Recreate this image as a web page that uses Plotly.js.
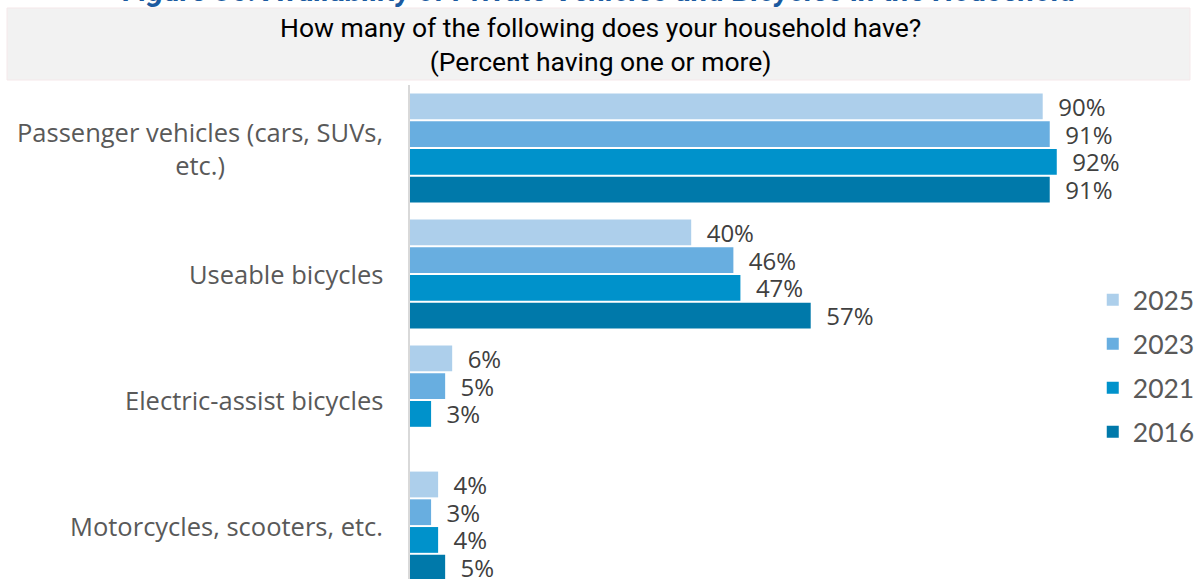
<!DOCTYPE html>
<html>
<head>
<meta charset="utf-8">
<script src="https://cdn.plot.ly/plotly-3.0.1.min.js"></script>
<style>html,body{margin:0;padding:0;background:#fff;overflow:hidden;}</style>
</head>
<body>
<div id="chart" style="width:1197px;height:579px;"></div>
<script>
const categories = ['Passenger vehicles (cars, SUVs,<br>etc.)', 'Useable bicycles', 'Electric-assist bicycles', 'Motorcycles, scooters, etc.'];
const seriesNames = ['2025', '2023', '2021', '2016'];
const v2025 = [90, 40, 6, 4];
const v2023 = [91, 46, 5, 3];
const v2021 = [92, 47, 3, 4];
const v2016 = [91, 57, null, 5];
const seriesValues = [v2025, v2023, v2021, v2016];
const seriesColors = ['#adcfeb', '#68aee0', '#0092cb', '#0079aa'];
const figureTitle = 'Figure 36: Availability of Private Vehicles and Bicycles in the Household';
const questionText = 'How many of the following does your household have?<br>(Percent having one or more)';

const catIdx = categories.map((c, i) => i);
const traces = seriesNames.map((name, k) => ({
  type: 'bar',
  orientation: 'h',
  name: name,
  legendgroup: name,
  x: seriesValues[k],
  y: catIdx,
  marker: {color: seriesColors[k]},
  texttemplate: '\u00a0\u00a0%{x}%',
  textposition: 'outside',
  constraintext: 'none',
  cliponaxis: false,
  textfont: {family: '"Open Sans", sans-serif', size: 24, color: '#404040'},
  hoverinfo: 'skip'
}));

const annotations = categories.map((c, i) => ({
  xref: 'paper', yref: 'y', x: -0.036, y: i,
  xanchor: 'right', yanchor: 'middle', align: 'center',
  text: c, showarrow: false,
  font: {family: '"Open Sans", sans-serif', size: 25.5, color: '#595959'}
}));
annotations.push({
  xref: 'paper', yref: 'paper', x: 0.2754, y: 1.081,
  xanchor: 'center', yanchor: 'middle', align: 'center',
  text: questionText, showarrow: false,
  font: {family: 'Roboto, sans-serif', size: 26.5, color: '#000000'}
});
annotations.push({
  xref: 'paper', yref: 'paper', x: 0.2754, y: 1.1518,
  xanchor: 'center', yanchor: 'bottom',
  text: '<b><i>' + figureTitle + '</i></b>', showarrow: false,
  font: {family: 'Roboto, sans-serif', size: 30.5, color: '#1c5aa0'}
});

const layout = {
  width: 1197, height: 579,
  margin: {l: 410, r: 97, t: 85, b: 0, autoexpand: false},
  paper_bgcolor: '#ffffff', plot_bgcolor: '#ffffff',
  barmode: 'group', bargap: 0.12, bargroupgap: 0.07,
  xaxis: {range: [0, 98.15], showgrid: false, zeroline: false, showticklabels: false, showline: false, fixedrange: true},
  yaxis: {type: 'linear', range: [3.42, -0.5], showgrid: false, zeroline: false, showticklabels: false,
          showline: true, linecolor: '#d9d9d9', linewidth: 2, fixedrange: true},
  showlegend: true,
  legend: {x: 0.9895, y: 0.431, xanchor: 'left', yanchor: 'middle', traceorder: 'grouped', tracegroupgap: 6.5,
           itemwidth: 30,
           font: {family: 'Lato, sans-serif', size: 26.5, color: '#595959'}, bgcolor: 'rgba(0,0,0,0)'},
  shapes: [{type: 'rect', xref: 'paper', yref: 'paper', x0: -0.584, x1: 1.1304, y0: 1.0101, y1: 1.1559,
            fillcolor: '#f2f2f2', line: {color: '#f5e8ea', width: 1}, layer: 'below'}],
  annotations: annotations
};

Plotly.newPlot('chart', traces, layout, {displayModeBar: false, staticPlot: true});
</script>
</body>
</html>
